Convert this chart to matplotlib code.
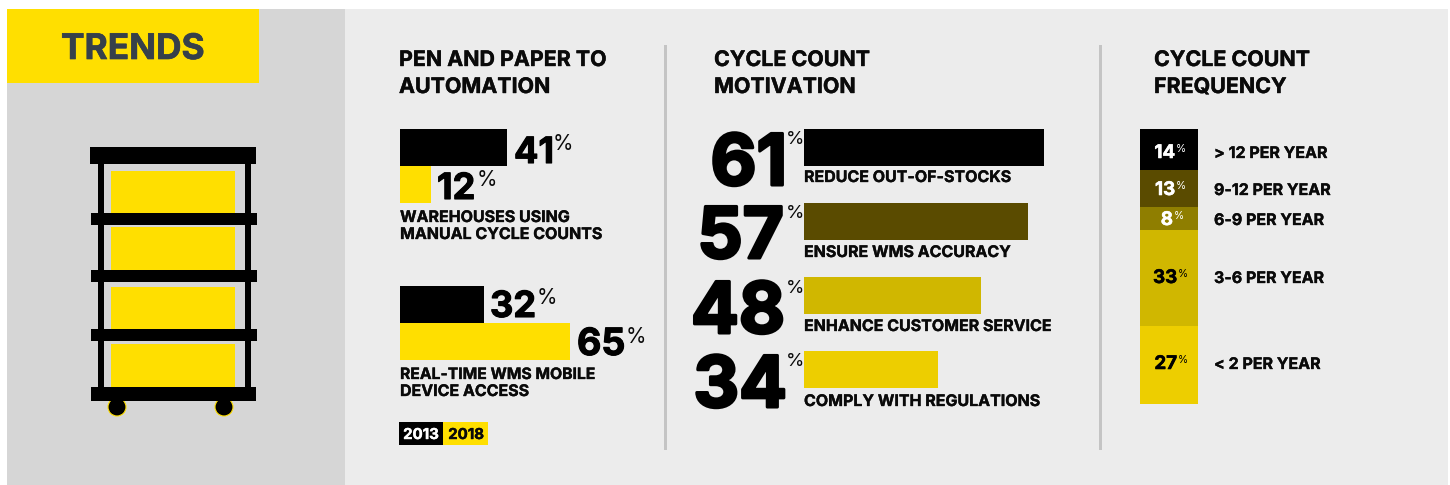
import matplotlib
matplotlib.use("Agg")
import matplotlib.pyplot as plt
from matplotlib.patches import Rectangle, Circle
import matplotlib.patheffects as pe

FONT = "Inter"
W, H = 1450, 485

# ---- data ----
manual_labels = ["2013", "2018"]
manual_values = [41, 12]
mobile_values = [32, 65]
motivation_labels = ["REDUCE OUT-OF-STOCKS", "ENSURE WMS ACCURACY",
                     "ENHANCE CUSTOMER SERVICE", "COMPLY WITH REGULATIONS"]
motivation_values = [61, 57, 48, 34]
motivation_bar_lengths = [61, 57, 45, 34]  # drawn lengths
frequency_labels = ["> 12 PER YEAR", "9-12 PER YEAR", "6-9 PER YEAR",
                    "3-6 PER YEAR", "< 2 PER YEAR"]
frequency_values = [14, 13, 8, 33, 27]

BLACK = "#000000"
YELLOW = "#FFDF00"
SHADES = ["#000000", "#5A4B00", "#8F7E00", "#D0B700", "#EDCE00"]
INK = "#0A0A0A"

fig = plt.figure(figsize=((W + 0.01) / 100, (H + 0.01) / 100), dpi=100, facecolor="white")
bg = fig.add_axes([0, 0, 1, 1], zorder=0)
fg = fig.add_axes([0, 0, 1, 1], zorder=10)
for a in (bg, fg):
    a.set_xlim(0, W)
    a.set_ylim(H, 0)
    a.axis("off")
    a.patch.set_alpha(0)


def rect(x0, y0, x1, y1, c, z=1):
    bg.add_patch(Rectangle((x0, y0), x1 - x0, y1 - y0, fc=c, ec="none", zorder=z))


def txt(x, y, s, size, weight="bold", color=INK, ha="left", stroke=0.0):
    t = fg.text(x, y, s, fontsize=size, fontweight=weight, color=color, ha=ha,
                va="baseline", family=FONT)
    if stroke:
        t.set_path_effects([pe.withStroke(linewidth=stroke, foreground=color)])
    return t


def sub_axes(x0, y0, x1, y1):
    ax = fig.add_axes([x0 / W, 1 - y1 / H, (x1 - x0) / W, (y1 - y0) / H], zorder=5)
    ax.axis("off")
    ax.patch.set_alpha(0)
    return ax


# ---- panels ----
rect(7, 9, 345, 485, "#D6D6D6")
rect(345, 9, 1448, 485, "#ECECEC")
rect(7, 9, 259, 83, YELLOW, 2)
txt(61, 59, "TRENDS", 25.4, color="#36404A", stroke=0.5)

# ---- shelf icon ----
for y0, y1 in [(171, 213), (227, 270), (287, 329), (344, 387)]:
    rect(111, y0, 235, y1, YELLOW, 2)
for x0, x1 in [(98, 104), (245, 251)]:
    rect(x0, 160, x1, 390, BLACK, 3)
rect(90, 147, 256, 164, BLACK, 3)
for y0, y1 in [(213, 225), (270, 282), (329, 341)]:
    rect(91, y0, 257, y1, BLACK, 3)
rect(91, 387, 256, 401, BLACK, 3)
for cx in (117, 224):
    bg.add_patch(Circle((cx, 407), 9, fc=BLACK, ec=YELLOW, lw=0.8, zorder=2))

# ---- dividers ----
rect(664, 45, 667, 450, "#C4C4C4")
rect(1099, 45, 1102, 450, "#C4C4C4")

# ---- titles ----
for x, l1, l2 in [(399, "PEN AND PAPER TO", "AUTOMATION"),
                  (714, "CYCLE COUNT", "MOTIVATION"),
                  (1154, "CYCLE COUNT", "FREQUENCY")]:
    txt(x, 66, l1, 15.4, stroke=0.3)
    txt(x, 93, l2, 15.4, stroke=0.3)

# ---- pen and paper bars ----
PX = 2.62
for vals, y0 in [(manual_values, 129), (mobile_values, 286)]:
    ax = sub_axes(400, y0, 400 + 100 * PX, y0 + 74)
    ax.barh([0, 1], vals, height=1, color=[BLACK, YELLOW])
    ax.set_xlim(0, 100)
    ax.set_ylim(1.5, -0.5)

for v, x, yb, px, yp, s in [(manual_values[0], 514, 163, 552.5, 150, 26),
                            (manual_values[1], 437, 199, 477, 186, 26),
                            (mobile_values[0], 490, 317, 536.5, 304, 26),
                            (mobile_values[1], 577, 355, 625.5, 343, 27)]:
    txt(x, yb, str(v), s, color=BLACK, stroke=0.8)
    txt(px, yp, "%", 15, weight="normal")

LAB = 11.5
txt(400, 222, "WAREHOUSES USING", LAB, stroke=0.25)
txt(400, 239, "MANUAL CYCLE COUNTS", LAB, stroke=0.25)
txt(400, 379, "REAL-TIME WMS MOBILE", 11.3, stroke=0.25)
txt(400, 396, "DEVICE ACCESS", LAB, stroke=0.25)

# ---- legend ----
rect(399, 422, 443, 445, BLACK, 2)
rect(443, 422, 488, 445, YELLOW, 2)
txt(421, 439, manual_labels[0], 10.8, color="white", ha="center", stroke=0.3)
txt(466, 439, manual_labels[1], 10.8, ha="center", stroke=0.3)

# ---- motivation ----
ax = sub_axes(804, 129, 1044, 388)
ax.barh(range(4), motivation_bar_lengths, height=0.5, color=SHADES[:2] + SHADES[3:])
ax.set_xlim(0, 61)
ax.set_ylim(3.25, -0.25)

big_base = [185, 258, 333, 407]
big_right = [787, 784, 785, 787]
pct_base = [144, 218, 293, 366]
lab_base = [182, 257, 331, 406]
for v, lab, b, r, p, lb in zip(motivation_values, motivation_labels, big_base,
                               big_right, pct_base, lab_base):
    txt(r, b, str(v), 51, color=BLACK, ha="right", stroke=2.2)
    txt(785.5, p, "%", 13.5, weight="normal")
    txt(804, lb, lab, LAB, stroke=0.25)

# ---- frequency stack ----
ax = sub_axes(1140, 129, 1198, 404)
cum = 0
for v, c in zip(frequency_values, SHADES):
    ax.bar(0, v, bottom=cum, width=1, color=c)
    cum += v
ax.set_xlim(-0.5, 0.5)
ax.set_ylim(cum, 0)

num_right = [1175, 1175, 1173, 1177, 1177]
num_base = [158, 195, 225, 283, 369]
num_col = ["white", "white", "white", BLACK, BLACK]
for v, lab, r, b, c in zip(frequency_values, frequency_labels, num_right, num_base, num_col):
    txt(r, b, str(v), 13.5, color=c, ha="right", stroke=0.4)
    txt(r + 0.5, b - 6, "%", 7.5, weight="normal", color=c)
    txt(1214, b, lab, LAB, stroke=0.25)

fig.savefig("out.png", dpi=100, facecolor="white")
